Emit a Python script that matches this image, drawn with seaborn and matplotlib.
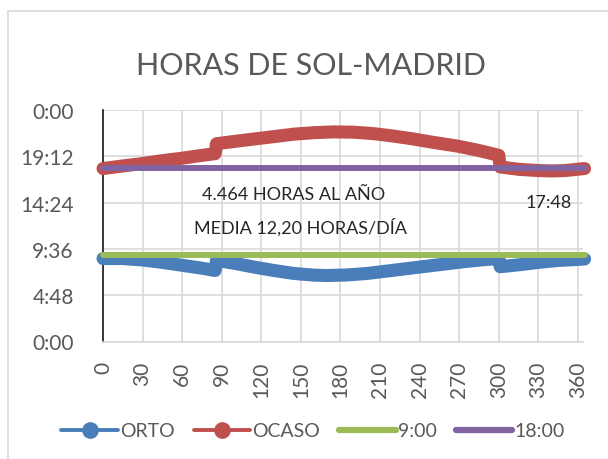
import matplotlib
matplotlib.use("Agg")
import matplotlib.pyplot as plt
import seaborn as sns
import pandas as pd
from matplotlib.lines import Line2D
from matplotlib.patches import Rectangle

# ---- data ----
orto_days = [0, 15, 30, 45, 60, 75, 85, 86, 100, 115, 130, 145, 160, 170, 185, 200,
             215, 230, 245, 260, 275, 290, 300, 301, 315, 330, 345, 365]
orto_hours = [8.6, 8.6, 8.45, 8.2, 7.9, 7.6, 7.36, 8.4, 8.1, 7.7, 7.35, 7.05, 6.88, 6.84,
              6.9, 7.05, 7.3, 7.55, 7.8, 8.05, 8.3, 8.5, 8.6, 7.75, 7.95, 8.2, 8.4, 8.55]
ocaso_days = [0, 15, 30, 45, 60, 75, 85, 86, 100, 115, 130, 145, 160, 175, 190, 205,
              220, 235, 250, 269, 285, 300, 301, 315, 330, 340, 350, 365]
ocaso_hours = [17.93, 18.2, 18.45, 18.75, 19.0, 19.3, 19.47, 20.5, 20.75, 21.0, 21.25,
               21.5, 21.65, 21.73, 21.7, 21.55, 21.3, 21.0, 20.65, 20.25, 19.8, 19.3,
               18.1, 17.85, 17.72, 17.68, 17.72, 17.93]
ref_days = [0, 365]
ref_900 = [9.0, 9.0]
ref_1800 = [18.0, 18.0]

x_ticks = list(range(0, 361, 30))
y_ticks = [0, 4.8, 9.6, 14.4, 19.2, 24]

title = "HORAS DE SOL-MADRID"
ann1 = "4.464 HORAS AL AÑO"
ann2 = "MEDIA 12,20 HORAS/DÍA"
ann3 = "17:48"

BLUE = "#4a7ebb"
RED = "#c0504d"
GREEN = "#9bbb59"
PURPLE = "#8064a2"
TXT = "#595959"

sns.set_style("white")
plt.rcParams["font.family"] = ["Lato", "DejaVu Sans"]

fig = plt.figure(figsize=(6.08, 4.6), dpi=100)
ax = fig.add_axes([103 / 608, 1 - 342.5 / 460, 480 / 608, (342.5 - 111) / 460])

df_o = pd.DataFrame({"dia": orto_days, "h": orto_hours})
df_c = pd.DataFrame({"dia": ocaso_days, "h": ocaso_hours})
df_9 = pd.DataFrame({"dia": ref_days, "h": ref_900})
df_18 = pd.DataFrame({"dia": ref_days, "h": ref_1800})

sns.lineplot(data=df_o, x="dia", y="h", ax=ax, color=BLUE, linewidth=9.4,
             solid_capstyle="round", solid_joinstyle="round", clip_on=False, zorder=3)
sns.lineplot(data=df_c, x="dia", y="h", ax=ax, color=RED, linewidth=9.4,
             solid_capstyle="round", solid_joinstyle="round", clip_on=False, zorder=3)
sns.lineplot(data=df_9, x="dia", y="h", ax=ax, color=GREEN, linewidth=4.3,
             solid_capstyle="round", clip_on=False, zorder=4)
sns.lineplot(data=df_18, x="dia", y="h", ax=ax, color=PURPLE, linewidth=4.3,
             solid_capstyle="round", clip_on=False, zorder=4)

ax.set_xlim(0, 363.8)
ax.set_ylim(0, 24)
ax.set_xticks(x_ticks)
ax.set_yticks(y_ticks)


def fmt(v):
    mins = int(round(v * 60)) % (24 * 60)
    return f"{mins // 60}:{mins % 60:02d}"


ax.set_yticklabels([fmt(v) for v in y_ticks])
ax.set_xticklabels([str(v) for v in x_ticks], rotation=90)
ax.tick_params(axis="both", length=0, labelsize=15, colors=TXT)
ax.tick_params(axis="y", pad=21)
ax.tick_params(axis="x", pad=14)
ax.set_xlabel("")
ax.set_ylabel("")
ax.grid(True, color="#d9d9d9", linewidth=1.2)
ax.set_axisbelow(True)
for s in ["top", "right"]:
    ax.spines[s].set_visible(False)
ax.spines["bottom"].set_color("#d9d9d9")
ax.spines["bottom"].set_linewidth(1.2)
ax.spines["left"].set_color("#1a1a1a")
ax.spines["left"].set_linewidth(1.2)

ax.text(144.5, 15.33, ann1, ha="center", va="center", fontsize=13, color="#262626")
ax.text(150, 11.91, ann2, ha="center", va="center", fontsize=13, color="#262626")
ax.text(337.6, 14.5, ann3, ha="center", va="center", fontsize=13, color="#262626")

fig.text(311 / 608, 1 - 66 / 460, title, ha="center", va="center", fontsize=22, color=TXT)

handles = [
    Line2D([], [], color=BLUE, lw=2.8, marker="o", markersize=11),
    Line2D([], [], color=RED, lw=2.8, marker="o", markersize=11),
    Line2D([], [], color=GREEN, lw=4.5, solid_capstyle="round"),
    Line2D([], [], color=PURPLE, lw=4.5, solid_capstyle="round"),
]
labels = ["ORTO", "OCASO", "9:00", "18:00"]
leg = fig.legend(handles, labels, loc="center", bbox_to_anchor=(313 / 608, 1 - 432 / 460),
                 ncol=4, frameon=False, fontsize=14, handlelength=2.9, handletextpad=0.1,
                 columnspacing=1.0)
for t in leg.get_texts():
    t.set_color(TXT)

fig.patches.append(Rectangle((8 / 608, -0.05), 1.0, 1 - 12 / 460 + 0.05,
                             transform=fig.transFigure, fill=False,
                             edgecolor="#d9d9d9", linewidth=1.2))

fig.savefig("out.png", dpi=100)
